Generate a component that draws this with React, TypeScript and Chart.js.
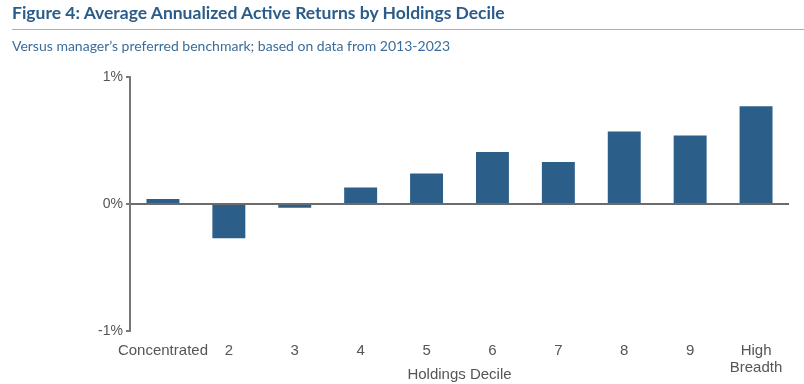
import React, { useEffect, useRef } from 'react';
import { Chart, registerables } from 'chart.js';

Chart.register(...registerables);

const titleText = 'Figure 4: Average Annualized Active Returns by Holdings Decile';
const subtitleText = "Versus manager\u2019s preferred benchmark; based on data from 2013-2023";
const xAxisTitle = 'Holdings Decile';
const categories: (string | string[])[] = ['Concentrated', '2', '3', '4', '5', '6', '7', '8', '9', ['High', 'Breadth']];
const activeReturns: number[] = [0.04, -0.27, -0.03, 0.13, 0.24, 0.41, 0.33, 0.57, 0.54, 0.77];
const yMin = -1;
const yMax = 1;
const yStep = 1;

const FONT = "'Liberation Sans', Arial, sans-serif";

export default function App() {
  const canvasRef = useRef<HTMLCanvasElement | null>(null);

  useEffect(() => {
    if (!canvasRef.current) return;
    const chart = new Chart(canvasRef.current, {
      type: 'bar',
      data: {
        labels: categories,
        datasets: [
          {
            data: activeReturns,
            backgroundColor: '#2c5e8a',
            borderWidth: 0,
            barPercentage: 0.5,
            categoryPercentage: 1.0,
          },
        ],
      },
      options: {
        responsive: false,
        animation: false,
        devicePixelRatio: 1,
        layout: { padding: { top: 77, right: 15, left: 0, bottom: 0 } },
        plugins: {
          legend: { display: false },
          tooltip: { enabled: false },
        },
        scales: {
          x: {
            grid: { display: false },
            border: { display: false },
            ticks: {
              color: '#555555',
              font: { family: FONT, size: 15, lineHeight: 1.1 },
              padding: 4,
              maxRotation: 0,
              autoSkip: false,
            },
            title: {
              display: true,
              text: xAxisTitle,
              color: '#555555',
              font: { family: FONT, size: 15 },
              padding: 0,
            },
            afterFit: (s: any) => {
              s.height = 53;
            },
          },
          y: {
            min: yMin,
            max: yMax,
            ticks: {
              stepSize: yStep,
              padding: 3,
              color: '#555555',
              font: { family: FONT, size: 14 },
              callback: (v: any) => `${v}%`,
            },
            grid: {
              color: (ctx: any) => (ctx.tick && ctx.tick.value === 0 ? '#6b6b6b' : 'rgba(0,0,0,0)'),
              lineWidth: 2,
              tickColor: '#777777',
              tickLength: 4,
              tickWidth: 2,
              drawTicks: true,
            },
            border: { color: '#777777', width: 2 },
            afterFit: (s: any) => {
              s.width = 130;
            },
          },
        },
      },
    });
    return () => chart.destroy();
  }, []);

  return (
    <div style={{ position: 'absolute', left: 0, top: 0, width: 804, height: 384, background: '#fff', overflow: 'hidden' }}>
      <canvas ref={canvasRef} width={804} height={384} style={{ position: 'absolute', left: 0, top: 0, display: 'block' }} />
      <div
        style={{
          position: 'absolute',
          left: 12,
          top: 1,
          fontFamily: "Lato, 'Open Sans', sans-serif",
          fontWeight: 700,
          fontSize: 17.5,
          color: '#2b5c89',
          whiteSpace: 'nowrap',
          lineHeight: '24px',
        }}
      >
        {titleText}
      </div>
      <div style={{ position: 'absolute', left: 12, top: 29, width: 792, height: 0, borderTop: '1.5px solid #5ccaec' }} />
      <div
        style={{
          position: 'absolute',
          left: 12,
          top: 36,
          fontFamily: "Lato, 'Open Sans', sans-serif",
          fontSize: 14,
          color: '#3a6d9c',
          whiteSpace: 'nowrap',
          lineHeight: '20px',
        }}
      >
        {subtitleText}
      </div>
    </div>
  );
}
